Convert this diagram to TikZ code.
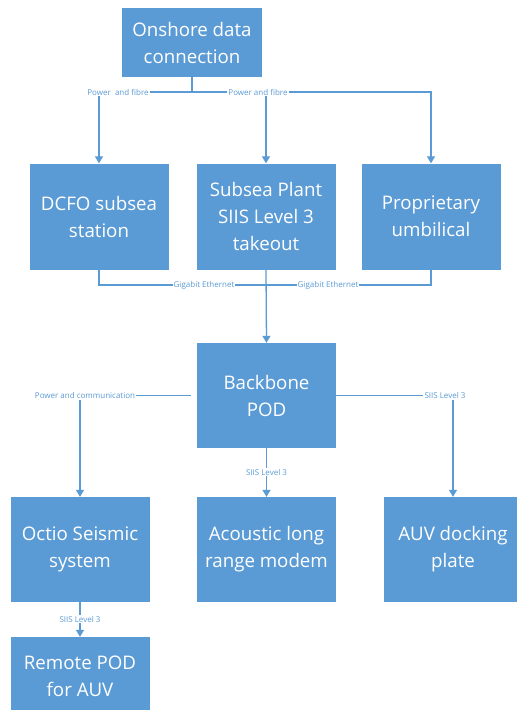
\documentclass[tikz,border=0pt]{standalone}
\usepackage{fontspec}
\setmainfont{Open Sans}
\usetikzlibrary{arrows.meta,positioning}
\definecolor{boxblue}{HTML}{5B9BD5}
\definecolor{linkblue}{HTML}{5B9BD5}
\tikzset{
  block/.style={fill=boxblue,text=white,font=\fontsize{18.7}{27}\selectfont,
    align=center,inner sep=0pt,minimum width=139pt,minimum height=106pt},
  link/.style={draw=linkblue,line width=1.3pt},
  tag/.style={fill=white,text=linkblue,font=\fontsize{8}{9}\selectfont,inner sep=1pt},
  tip/.style={-{Triangle[length=7pt,width=8pt]}}
}
\begin{document}
\begin{tikzpicture}[x=1pt,y=-1pt]
\useasboundingbox (0,0) rectangle (517,710);
\fill[white] (0,0) rectangle (517,710);
% boxes
\node[block,minimum width=140pt,minimum height=69pt] (onshore) at (192,42.5) {Onshore data\\connection};
\node[block] (dcfo) at (99,216.5) {DCFO subsea\\station};
\node[block] (plant) at (266,216.5) {Subsea Plant\\SIIS Level 3\\takeout};
\node[block] (umbilical) at (431,216.5) {Proprietary\\umbilical};
\node[block,minimum height=105pt] (backbone) at (266.5,395.5) {Backbone\\POD};
\node[block,minimum height=105pt] (octio) at (80,549.5) {Octio Seismic\\system};
\node[block,minimum height=105pt] (acoustic) at (266.5,549.5) {Acoustic long\\range modem};
\node[block,minimum height=105pt] (auv) at (453,549.5) {AUV docking\\plate};
\node[block,minimum height=78pt] (remote) at (80,676) {Remote POD\\for AUV};
% power and fibre from shore
\coordinate (feed) at (192,92);
\node[tag] (pf1) at (118,92) {Power\ \ and fibre};
\draw[link] (onshore.south) -- (feed) -- (pf1.east);
\draw[link,tip] (feed) -- (umbilical.north |- feed) -- (umbilical.north);
\node[tag] (pf2) at (258,92) {Power and fibre};
\draw[link,tip] (dcfo.north |- pf1.south) -- (dcfo.north);
\draw[link,tip] (plant.north |- pf2.south) -- (plant.north);
% ethernet ring
\coordinate (ring) at (266,285);
\draw[link] (dcfo.south) -- (dcfo.south |- ring) -- (umbilical.south |- ring) -- (umbilical.south);
\node[tag] (ge1) at (204,285) {Gigabit Ethernet};
\node[tag] (ge2) at (328,285) {Gigabit Ethernet};
\draw[link,tip] (plant.south) -- (backbone.north);
% from the backbone POD
\node[tag] (pc) at (85,395.5) {Power and communication};
\node[tag] (sl1) at (445,395.5) {SIIS Level 3};
\node[tag] (sl2) at (266.5,472) {SIIS Level 3};
\node[tag] (sl3) at (80,619) {SIIS Level 3};
\draw[link] ([xshift=-6pt]backbone.west) -- (pc.east);
\draw[link,tip] (octio.north |- pc.south) -- (octio.north);
\draw[link] (backbone.east) -- (sl1.west);
\draw[link,tip] (auv.north |- sl1.south) -- (auv.north);
\draw[link] (backbone.south) -- (sl2.north);
\draw[link,tip] (sl2.south) -- (acoustic.north);
\draw[link] (octio.south) -- (sl3.north);
\draw[link,tip] (sl3.south) -- (remote.north);
\end{tikzpicture}
\end{document}
